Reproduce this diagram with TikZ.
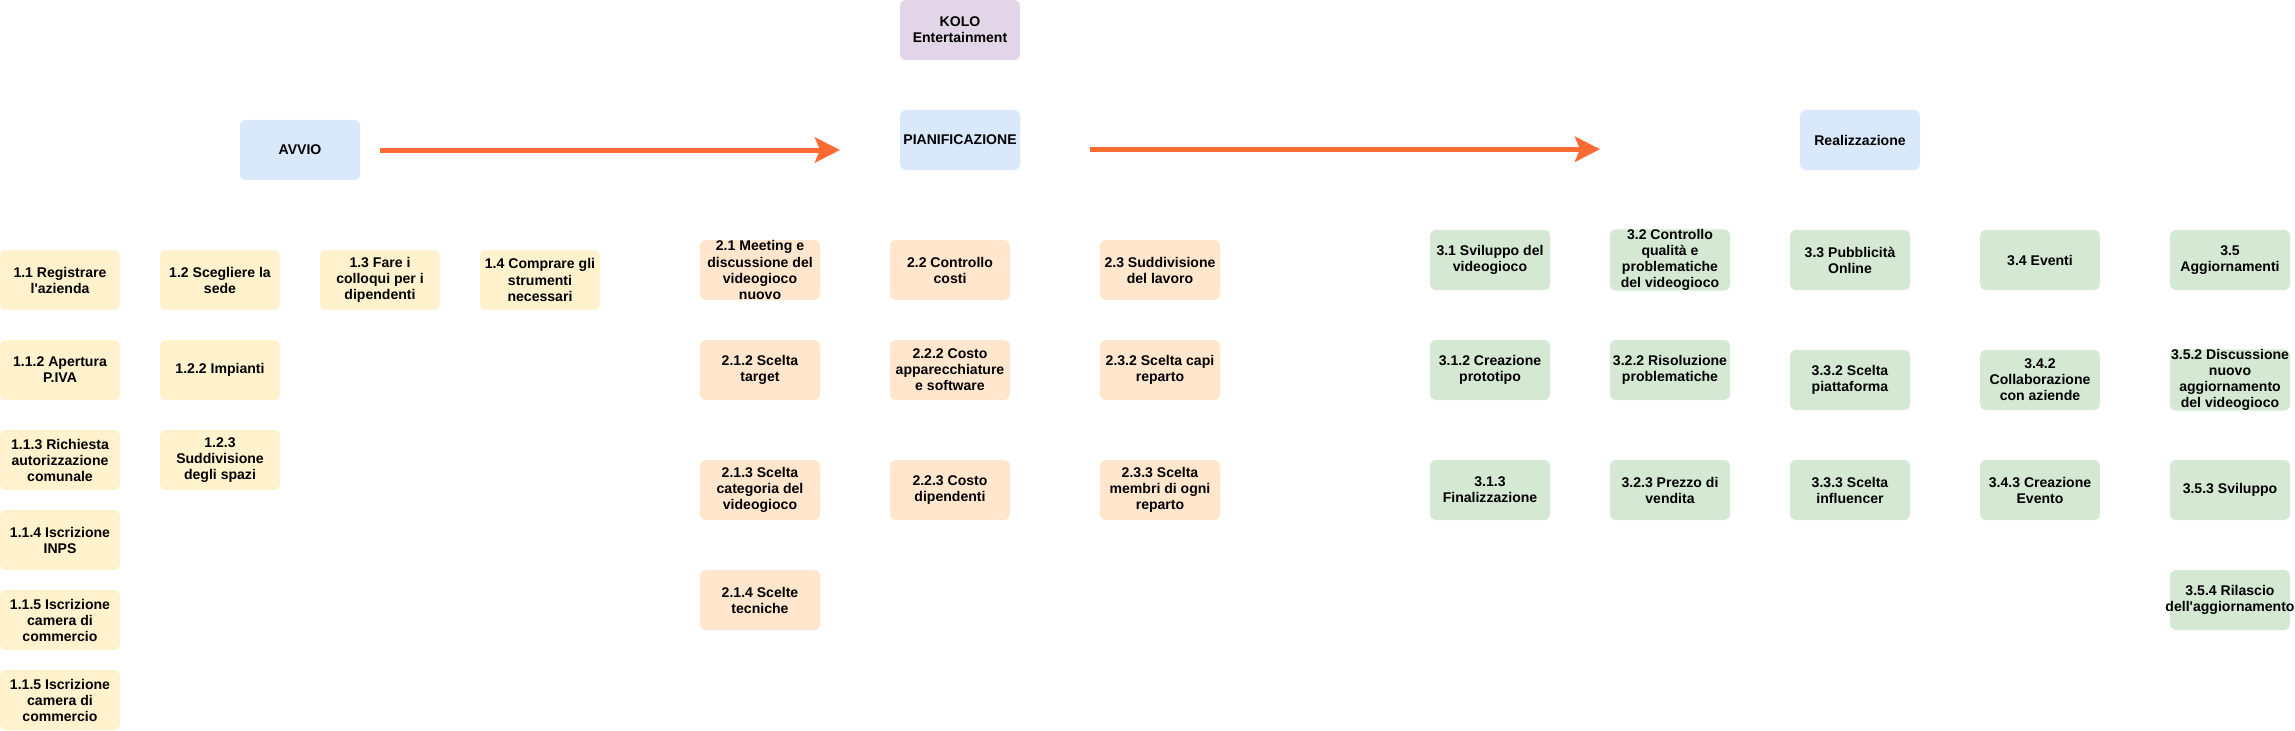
\documentclass[tikz,border=0pt]{standalone}
\usepackage{fontspec}
\setmainfont{Liberation Sans}
\usetikzlibrary{arrows.meta}
\definecolor{kolofill}{HTML}{E1D5E7}
\definecolor{phasefill}{HTML}{DAE8FC}
\definecolor{avviofill}{HTML}{FFF2CC}
\definecolor{pianofill}{HTML}{FFE6CC}
\definecolor{realfill}{HTML}{D5E8D4}
\definecolor{flowcol}{HTML}{FF6B33}
\begin{document}
\begin{tikzpicture}[
    box/.style={rectangle, rounded corners=0.15cm, draw=none, minimum width=3cm, minimum height=1.5cm,
      inner sep=0pt, align=center, font=\fontsize{10}{11.4}\selectfont\bfseries},
    kolo/.style={box, fill=kolofill},
    phase/.style={box, fill=phasefill},
    avvio/.style={box, fill=avviofill},
    piano/.style={box, fill=pianofill},
    real/.style={box, fill=realfill},
    flow/.style={draw=flowcol, line width=0.125cm, -{Stealth[length=0.625cm, width=0.625cm, inset=0.125cm]}}
  ]
      \useasboundingbox (0,0) rectangle (57.375,-18.275);

      % top
      \node[kolo](K) at (24.00, -0.75){KOLO\\Entertainment};
      \node[phase](P1) at ( 7.50, -3.75){AVVIO};
      \node[phase](P2) at (24.00, -3.50){PIANIFICAZIONE};
      \node[phase](P3) at (46.50, -3.50){Realizzazione};

      \coordinate (s1) at ( 9.50,-3.75);
      \coordinate (e1) at (21.00,-3.75);
      \coordinate (s2) at (27.25,-3.73);
      \coordinate (e2) at (40.00,-3.73);
      \draw[flow] (s1) -- (e1);
      \draw[flow] (s2) -- (e2);

      % avvio
      \node[avvio](a1) at ( 1.50, -7.00){1.1 Registrare\\l\textquotesingle azienda};
      \node[avvio](a2) at ( 5.50, -7.00){1.2 Scegliere la\\sede};
      \node[avvio](a3) at ( 9.50, -7.00){1.3 Fare i\\colloqui per i\\dipendenti};
      \node[avvio](a4) at (13.50, -7.00){1.4 Comprare gli\\strumenti\\necessari};
      \node[avvio](a12) at ( 1.50, -9.25){1.1.2 Apertura\\P.IVA};
      \node[avvio](a22) at ( 5.50, -9.25){1.2.2 Impianti};
      \node[avvio](a13) at ( 1.50,-11.50){1.1.3 Richiesta\\autorizzazione\\comunale};
      \node[avvio](a23) at ( 5.50,-11.50){1.2.3\\Suddivisione\\degli spazi};
      \node[avvio](a14) at ( 1.50,-13.50){1.1.4 Iscrizione\\INPS};
      \node[avvio](a15) at ( 1.50,-15.50){1.1.5 Iscrizione\\camera di\\commercio};
      \node[avvio](a16) at ( 1.50,-17.50){1.1.5 Iscrizione\\camera di\\commercio};

      % pianificazione
      \node[piano](b1) at (19.00, -6.75){2.1 Meeting e\\discussione del\\videogioco\\nuovo};
      \node[piano](b2) at (23.75, -6.75){2.2 Controllo\\costi};
      \node[piano](b3) at (29.00, -6.75){2.3 Suddivisione\\del lavoro};
      \node[piano](b12) at (19.00, -9.25){2.1.2 Scelta\\target};
      \node[piano](b22) at (23.75, -9.25){2.2.2 Costo\\apparecchiature\\e software};
      \node[piano](b32) at (29.00, -9.25){2.3.2 Scelta capi\\reparto};
      \node[piano](b13) at (19.00,-12.25){2.1.3 Scelta\\categoria del\\videogioco};
      \node[piano](b23) at (23.75,-12.25){2.2.3 Costo\\dipendenti};
      \node[piano](b33) at (29.00,-12.25){2.3.3 Scelta\\membri di ogni\\reparto};
      \node[piano](b14) at (19.00,-15.00){2.1.4 Scelte\\tecniche};

      % realizzazione
      \node[real](c1) at (37.25, -6.50){3.1 Sviluppo del\\videogioco};
      \node[real](c2) at (41.75, -6.50){3.2 Controllo\\qualità e\\problematiche\\del videogioco};
      \node[real](c3) at (46.25, -6.50){3.3 Pubblicità\\Online};
      \node[real](c4) at (51.00, -6.50){3.4 Eventi};
      \node[real](c5) at (55.75, -6.50){3.5\\Aggiornamenti};
      \node[real](c12) at (37.25, -9.25){3.1.2 Creazione\\prototipo};
      \node[real](c22) at (41.75, -9.25){3.2.2 Risoluzione\\problematiche};
      \node[real](c32) at (46.25, -9.50){3.3.2 Scelta\\piattaforma};
      \node[real](c42) at (51.00, -9.50){3.4.2\\Collaborazione\\con aziende};
      \node[real](c52) at (55.75, -9.50){3.5.2 Discussione\\nuovo\\aggiornamento\\del videogioco};
      \node[real](c13) at (37.25,-12.25){3.1.3\\Finalizzazione};
      \node[real](c23) at (41.75,-12.25){3.2.3 Prezzo di\\vendita};
      \node[real](c33) at (46.25,-12.25){3.3.3 Scelta\\influencer};
      \node[real](c43) at (51.00,-12.25){3.4.3 Creazione\\Evento};
      \node[real](c53) at (55.75,-12.25){3.5.3 Sviluppo};
      \node[real](c54) at (55.75,-15.00){3.5.4 Rilascio\\\makebox[3cm]{dell\textquotesingle aggiornamento}};
    \end{tikzpicture}
\end{document}
